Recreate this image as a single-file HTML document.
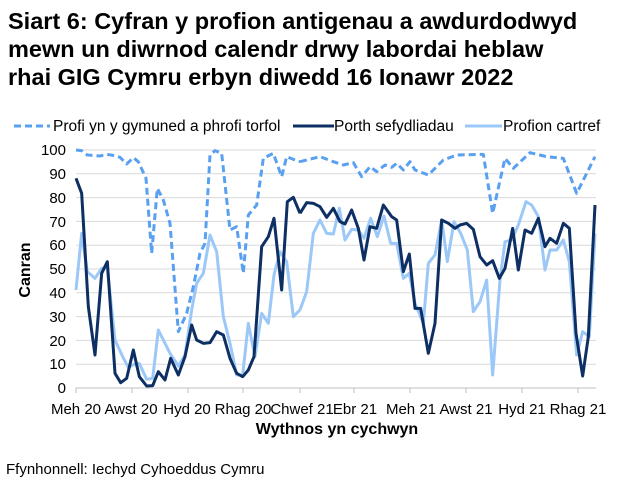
<!DOCTYPE html>
<html><head><meta charset="utf-8"><style>
body{margin:0;background:#fff;}
svg{display:block;font-family:"Liberation Sans",Arial,sans-serif;}
</style></head><body>
<svg width="618" height="488" viewBox="0 0 618 488">
<rect width="618" height="488" fill="#fff"/>
<g font-size="23.5" font-weight="bold" fill="#000">
<text x="8" y="29">Siart 6: Cyfran y profion antigenau a awdurdodwyd</text>
<text x="8" y="57">mewn un diwrnod calendr drwy labordai heblaw</text>
<text x="8" y="85">rhai GIG Cymru erbyn diwedd 16 Ionawr 2022</text>
</g>
<g stroke="#d9d9d9" stroke-width="1">
<line x1="76" x2="596" y1="150" y2="150"/><line x1="76" x2="596" y1="173.8" y2="173.8"/>
<line x1="76" x2="596" y1="197.6" y2="197.6"/><line x1="76" x2="596" y1="221.4" y2="221.4"/>
<line x1="76" x2="596" y1="245.2" y2="245.2"/><line x1="76" x2="596" y1="269" y2="269"/>
<line x1="76" x2="596" y1="292.8" y2="292.8"/><line x1="76" x2="596" y1="316.6" y2="316.6"/>
<line x1="76" x2="596" y1="340.4" y2="340.4"/><line x1="76" x2="596" y1="364.2" y2="364.2"/>
</g>
<line x1="76" x2="596" y1="388" y2="388" stroke="#bfbfbf"/>
<g stroke="#bfbfbf"><line x1="76" x2="76" y1="388" y2="393"/><line x1="132" x2="132" y1="388" y2="393"/><line x1="188" x2="188" y1="388" y2="393"/><line x1="243" x2="243" y1="388" y2="393"/><line x1="300" x2="300" y1="388" y2="393"/><line x1="354" x2="354" y1="388" y2="393"/><line x1="410" x2="410" y1="388" y2="393"/><line x1="466" x2="466" y1="388" y2="393"/><line x1="522" x2="522" y1="388" y2="393"/><line x1="578" x2="578" y1="388" y2="393"/></g>
<g font-size="15" text-anchor="end" fill="#000">
<text x="66" y="155">100</text><text x="66" y="179">90</text><text x="66" y="203">80</text><text x="66" y="227">70</text><text x="66" y="250">60</text><text x="66" y="274">50</text><text x="66" y="298">40</text><text x="66" y="322">30</text><text x="66" y="346">20</text><text x="66" y="369">10</text><text x="66" y="393">0</text>
</g>
<g font-size="15" text-anchor="middle" fill="#000">
<text x="76" y="414">Meh 20</text><text x="131" y="414">Awst 20</text><text x="187" y="414">Hyd 20</text><text x="243" y="414">Rhag 20</text><text x="302" y="414">Chwef 21</text><text x="355" y="414">Ebr 21</text><text x="411" y="414">Meh 21</text><text x="466" y="414">Awst 21</text><text x="522" y="414">Hyd 21</text><text x="578" y="414">Rhag 21</text>
</g>
<text x="337" y="434" font-size="16" font-weight="bold" text-anchor="middle">Wythnos yn cychwyn</text>
<text transform="translate(30,270) rotate(-90)" font-size="16" font-weight="bold" text-anchor="middle">Canran</text>
<text x="6" y="474" font-size="15">Ffynhonnell: Iechyd Cyhoeddus Cymru</text>
<!-- legend -->
<line x1="14" x2="50" y1="126" y2="126" stroke="#5aa0f0" stroke-width="3" stroke-dasharray="7,4"/>
<text x="53" y="131" font-size="15.5">Profi yn y gymuned a phrofi torfol</text>
<line x1="293" x2="334" y1="126" y2="126" stroke="#0d2f63" stroke-width="3"/>
<text x="334" y="131" font-size="15.5">Porth sefydliadau</text>
<line x1="465" x2="502" y1="126" y2="126" stroke="#9cc8f8" stroke-width="3"/>
<text x="503" y="131" font-size="15.5">Profion cartref</text>
<g fill="none" stroke-linejoin="round">
<g transform="translate(0,110) scale(0.33333)" stroke-width="9">
<polyline stroke="#9cc8f8" points="228,540 245,370 262,485 285,505 305,475 322,475 345,690 368,740 385,772 405,762 418,760 440,808 458,805 475,660 510,730 535,768 555,735 575,600 590,520 610,490 630,375 650,425 670,620 690,700 710,795 728,795 745,640 765,740 785,610 805,640 822,495 840,425 860,455 880,620 900,600"/>
<polyline stroke="#0d2f63" points="228,205 245,250 265,590 285,735 305,490 322,455 345,790 362,818 380,805 400,720 418,800 440,828 458,827 475,785 495,810 512,745 535,795 555,740 575,645 590,690 610,700 630,698 650,665 670,675 690,745 710,790 728,800 745,780 762,740 785,410 805,380 822,325 845,540 862,275 880,262 900,310"/>
<polyline stroke="#5aa0f0" stroke-dasharray="21,12" points="228,120 245,122 262,135 300,138 320,133 345,137 360,142 380,162 400,143 415,155 438,205 455,430 472,235 490,270 510,340 535,665 560,610 580,530 600,430 615,400 630,135 645,122 665,130 690,360 710,350 730,490 745,315 770,285 790,145 820,130 845,200 860,140 890,152 900,155"/>
</g>
<g transform="translate(300,110) scale(0.33333)" stroke-width="9">
<polyline stroke="#9cc8f8" points="0,600 20,545 40,370 60,330 80,370 100,372 118,295 135,390 155,358 175,360 192,385 212,325 232,380 252,318 272,400 290,400 310,505 328,490 345,580 370,640 385,460 405,435 425,330 442,455 462,335 482,370 502,420 520,605 540,575 560,510 578,795 600,510 615,395 635,390 655,345 678,275 695,285 715,320 735,480 750,420 770,420 790,390 808,455 830,735 848,665 868,680 885,370"/>
<polyline stroke="#0d2f63" points="0,310 20,278 40,280 60,290 80,322 100,295 120,335 135,342 155,300 175,355 192,450 210,350 230,355 250,285 275,320 290,330 310,485 328,432 345,595 362,595 385,730 405,640 425,330 445,340 465,355 480,345 500,340 520,358 540,440 560,465 578,452 598,505 615,475 638,355 655,480 675,360 695,370 715,325 735,410 750,385 770,400 790,340 808,355 828,670 848,798 865,680 885,285"/>
<polyline stroke="#5aa0f0" stroke-dasharray="21,12" points="0,155 60,140 100,155 130,165 160,158 185,200 210,170 230,185 255,165 275,172 290,160 310,180 330,155 345,180 385,195 430,150 470,135 550,133 578,310 615,145 640,175 690,128 740,140 790,145 830,250 860,190 885,140"/>
</g>
</g>
</svg>
</body></html>
